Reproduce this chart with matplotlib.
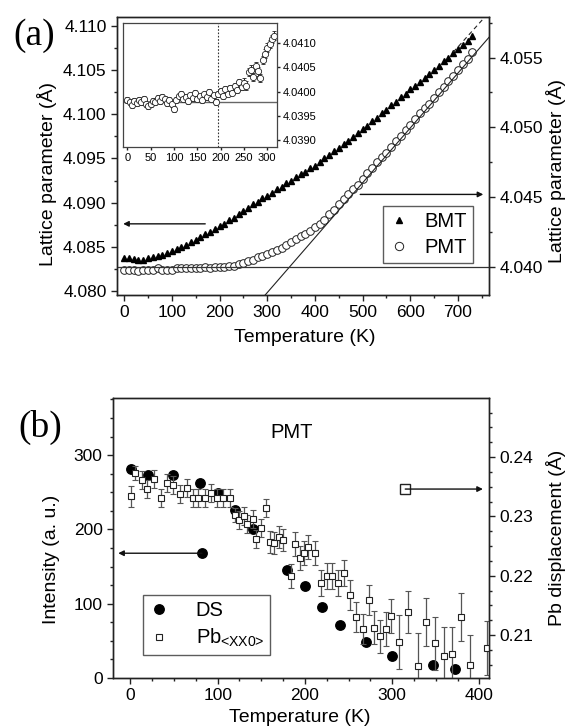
import numpy as np
import matplotlib
matplotlib.use("Agg")
import matplotlib.pyplot as plt
from matplotlib.ticker import MultipleLocator, FormatStrFormatter
from matplotlib.lines import Line2D

plt.rcParams['font.family'] = ['Liberation Sans', 'DejaVu Sans']
plt.rcParams['mathtext.fontset'] = 'custom'
plt.rcParams['mathtext.rm'] = 'Liberation Sans'

# ---------------- panel (a): lattice parameters ----------------
T_a = np.arange(0, 740, 10)
bmt = [4.0837, 4.0837, 4.0836, 4.0835, 4.0835, 4.0837, 4.0838, 4.0840, 4.0841, 4.0843,
       4.0845, 4.0847, 4.0850, 4.0852, 4.0855, 4.0858, 4.0861, 4.0864, 4.0867, 4.0870,
       4.0873, 4.0876, 4.0880, 4.0883, 4.0887, 4.0890, 4.0894, 4.0898, 4.0901, 4.0905,
       4.0908, 4.0911, 4.0915, 4.0918, 4.0922, 4.0925, 4.0929, 4.0932, 4.0935, 4.0939,
       4.0942, 4.0946, 4.0950, 4.0954, 4.0958, 4.0962, 4.0966, 4.0970, 4.0974, 4.0979,
       4.0983, 4.0987, 4.0992, 4.0996, 4.1001, 4.1005, 4.1010, 4.1014, 4.1019, 4.1023,
       4.1028, 4.1032, 4.1037, 4.1041, 4.1046, 4.1050, 4.1055, 4.1060, 4.1064, 4.1069,
       4.1074, 4.1078, 4.1083, 4.1088]
pmt = [4.0398, 4.0398, 4.0398, 4.0397, 4.0398, 4.0398, 4.0398, 4.0399, 4.0398, 4.0398,
       4.0398, 4.0399, 4.0399, 4.0399, 4.0399, 4.0399, 4.0399, 4.0400, 4.0399, 4.0400,
       4.0400, 4.0400, 4.0401, 4.0401, 4.0402, 4.0403, 4.0404, 4.0405, 4.0407, 4.0408,
       4.0409, 4.0411, 4.0412, 4.0414, 4.0416, 4.0418, 4.0420, 4.0422, 4.0424, 4.0426,
       4.0429, 4.0431, 4.0434, 4.0438, 4.0441, 4.0445, 4.0449, 4.0452, 4.0456, 4.0459,
       4.0463, 4.0467, 4.0471, 4.0475, 4.0479, 4.0482, 4.0486, 4.0490, 4.0494, 4.0498,
       4.0502, 4.0506, 4.0510, 4.0514, 4.0517, 4.0521, 4.0525, 4.0529, 4.0533, 4.0537,
       4.0541, 4.0545, 4.0549, 4.0554]

# linear guides: intercept, slope, T range
pmt_fit = (4.02638, 3.93e-5, 290, 765)
bmt_fit = (4.06562, 6.0e-5, 690, 758)
pmt_ref = 4.040

# inset: PMT at low T
T_in = np.arange(0, 320, 5)
pmt_in = [4.03982, 4.03978, 4.03972, 4.03980, 4.03976, 4.03983, 4.03979, 4.03985,
          4.03974, 4.03970, 4.03975, 4.03981, 4.03978, 4.03986, 4.03980, 4.03988,
          4.03984, 4.03976, 4.03983, 4.03975, 4.03965, 4.03982, 4.03990, 4.03995,
          4.03984, 4.03988, 4.03980, 4.03992, 4.03986, 4.03998, 4.03985, 4.03990,
          4.03982, 4.03994, 4.03988, 4.04000, 4.03985, 4.03992, 4.03978, 4.03995,
          4.04002, 4.03990, 4.04005, 4.03996, 4.04008, 4.03998, 4.04012, 4.04004,
          4.04020, 4.04010, 4.04018, 4.04012, 4.04040, 4.04045, 4.04030, 4.04052,
          4.04042, 4.04028, 4.04065, 4.04078, 4.04090, 4.04098, 4.04108, 4.04115]
pmt_in_err = np.where(T_in < 250, 0.00006, 0.00009)
inset_ref = 4.03979
inset_tc = 195

arrow_a_left = ((170, 4.0876), (-2, 4.0876))
arrow_a_right = ((495, 4.0452), (753, 4.0452))

# ---------------- panel (b): PMT diffuse scattering ----------------
T_ds = [1, 20, 49, 80, 100, 120, 140, 180, 200, 220, 240, 270, 300, 347, 372]
ds = [281, 273, 273, 262, 249, 226, 200, 145, 124, 96, 71, 48, 30, 17, 12]

T_pb = [1, 5, 13, 19, 27, 35, 42, 49, 57, 65, 72, 78, 85, 92, 99, 106, 114, 120, 124,
        130, 134, 141, 144, 150, 155, 160, 165, 170, 175, 184, 189, 194, 199, 204, 211,
        218, 225, 231, 238, 245, 252, 259, 266, 273, 279, 286, 293, 299, 308, 318, 330,
        339, 349, 359, 369, 379, 389, 409]
pb = [0.2334, 0.2373, 0.2361, 0.2346, 0.2363, 0.2331, 0.2356, 0.2353, 0.2338, 0.2348,
      0.2331, 0.2331, 0.2331, 0.2339, 0.2331, 0.2331, 0.2331, 0.2302, 0.2294, 0.2301,
      0.2287, 0.2295, 0.2262, 0.2280, 0.2314, 0.2257, 0.2255, 0.2265, 0.2260, 0.2199,
      0.2253, 0.2230, 0.2238, 0.2248, 0.2238, 0.2188, 0.2199, 0.2199, 0.2188, 0.2204,
      0.2167, 0.2130, 0.2110, 0.2159, 0.2112, 0.2098, 0.2110, 0.2132, 0.2088, 0.2139,
      0.2048, 0.2122, 0.2086, 0.2064, 0.2068, 0.2130, 0.2050, 0.2078]
pb_err = [0.0018, 0.0012, 0.0015, 0.0015, 0.0015, 0.0015, 0.0015, 0.0015, 0.0015, 0.0015,
          0.0015, 0.0015, 0.0015, 0.0015, 0.0015, 0.0015, 0.0015, 0.0012, 0.0015, 0.0015,
          0.0015, 0.0015, 0.0015, 0.0015, 0.0015, 0.0018, 0.0018, 0.0018, 0.0018, 0.0020,
          0.0020, 0.0020, 0.0020, 0.0020, 0.0020, 0.0022, 0.0022, 0.0022, 0.0022, 0.0022,
          0.0025, 0.0025, 0.0025, 0.0025, 0.0028, 0.0028, 0.0028, 0.0028, 0.0045, 0.0035,
          0.0055, 0.0040, 0.0045, 0.0050, 0.0045, 0.0040, 0.0050, 0.0045]

arrow_b_left = ((82, 168), (-14, 168))
arrow_b_right = ((315, 0.2346), (404, 0.2346))

# ---------------- figure ----------------
W, H = 566.0, 728.0
fig = plt.figure(figsize=(W / 100, H / 100), dpi=100)

def box(x0, y0, x1, y1):
    return [x0 / W, 1 - y1 / H, (x1 - x0) / W, (y1 - y0) / H]

def style(ax, size=12.5, major=4, minor=2.5):
    for s in ax.spines.values():
        s.set_linewidth(1.0)
        s.set_color('#222222')
    ax.tick_params(which='both', direction='out', width=1.0, colors='#222222',
                   labelsize=size, labelcolor='black', top=False)
    ax.tick_params(which='major', length=major)
    ax.tick_params(which='minor', length=minor)

ax_a = fig.add_axes(box(117, 17, 489, 295))
ax_a2 = ax_a.twinx()
ax_in = fig.add_axes(box(123, 23, 277, 147))
ax_b = fig.add_axes(box(113, 398, 489, 678))
ax_b2 = ax_b.twinx()

# panel (a)
ax_a.plot(T_a, bmt, ls='none', marker='^', ms=4.5, color='black', label='BMT')
ax_a2.plot(T_a, pmt, ls='none', marker='o', ms=5.5, mfc='white', mec='#222222',
           mew=0.7, label='PMT')
tt = np.linspace(pmt_fit[2], pmt_fit[3], 2)
ax_a2.plot(tt, pmt_fit[0] + pmt_fit[1] * tt, color='#222222', lw=0.8)
tt = np.linspace(bmt_fit[2], bmt_fit[3], 2)
ax_a.plot(tt, bmt_fit[0] + bmt_fit[1] * tt, color='#222222', lw=0.8, ls=(0, (4, 3)))
ax_a2.axhline(pmt_ref, color='#333333', lw=0.9)

ax_a.set_xlim(-15, 765)
ax_a.set_ylim(4.07955, 4.1110)
ax_a2.set_ylim(4.038, 4.0579)
ax_a.xaxis.set_major_locator(MultipleLocator(100))
ax_a.xaxis.set_minor_locator(MultipleLocator(50))
ax_a.yaxis.set_major_locator(MultipleLocator(0.005))
ax_a.yaxis.set_minor_locator(MultipleLocator(0.0025))
ax_a.yaxis.set_major_formatter(FormatStrFormatter('%.3f'))
ax_a2.yaxis.set_major_locator(MultipleLocator(0.005))
ax_a2.yaxis.set_minor_locator(MultipleLocator(0.0025))
ax_a2.yaxis.set_major_formatter(FormatStrFormatter('%.3f'))
style(ax_a)
style(ax_a2)
ax_a.tick_params(which='both', right=False)

for (x0, y0), (x1, y1), ax in [(arrow_a_left[0], arrow_a_left[1], ax_a),
                               (arrow_a_right[0], arrow_a_right[1], ax_a2)]:
    ax.annotate('', xy=(x1, y1), xytext=(x0, y0),
                arrowprops=dict(arrowstyle='-|>', color='#111111', lw=1.0,
                                mutation_scale=8, shrinkA=0, shrinkB=0))

h1, = ax_a.plot([], [], ls='none', marker='^', ms=5, color='black')
h2, = ax_a2.plot([], [], ls='none', marker='o', ms=6, mfc='white', mec='#222222', mew=0.7)
leg = ax_a2.legend([h1, h2], ['BMT', 'PMT'], loc='center', bbox_to_anchor=(0.836, 0.218),
                   fontsize=14.5, frameon=True, fancybox=False, handlelength=1.0,
                   handletextpad=0.8, labelspacing=0.35, borderpad=0.3)
leg.get_frame().set_edgecolor('#333333')
leg.get_frame().set_linewidth(1.0)

# inset
ax_in.set_zorder(5)
ax_in.errorbar(T_in, pmt_in, yerr=pmt_in_err, ls='none', marker='o', ms=4.5,
               mfc='white', mec='#222222', mew=0.6, ecolor='#222222', elinewidth=0.7,
               capsize=1.5, capthick=0.7)
ax_in.axhline(inset_ref, color='#666666', lw=1.0)
ax_in.axvline(inset_tc, color='#333333', lw=0.8, ls=(0, (1.5, 1.5)))
ax_in.set_xlim(-9, 321)
ax_in.set_ylim(4.03886, 4.04141)
ax_in.xaxis.set_major_locator(MultipleLocator(50))
ax_in.yaxis.set_major_locator(MultipleLocator(0.0005))
ax_in.yaxis.set_major_formatter(FormatStrFormatter('%.4f'))
ax_in.yaxis.tick_right()
style(ax_in, size=8, major=2.5)
ax_in.tick_params(axis='x', pad=2)
ax_in.tick_params(axis='y', pad=1.5)
for s in ax_in.spines.values():
    s.set_color('#444444')
    s.set_linewidth(0.9)

# panel (b)
ax_b.plot(T_ds, ds, ls='none', marker='o', ms=6.8, color='black')
ax_b2.errorbar(T_pb, pb, yerr=pb_err, ls='none', marker='s', ms=4.3, mfc='white',
               mec='#222222', mew=0.8, ecolor='#555555', elinewidth=0.9,
               capsize=2.5, capthick=0.9)
ax_b.set_xlim(-20, 411)
ax_b.set_ylim(0, 377)
ax_b2.set_ylim(0.20275, 0.24995)
ax_b.xaxis.set_major_locator(MultipleLocator(100))
ax_b.xaxis.set_minor_locator(MultipleLocator(25))
ax_b.yaxis.set_major_locator(MultipleLocator(100))
ax_b.yaxis.set_minor_locator(MultipleLocator(25))
ax_b2.yaxis.set_major_locator(MultipleLocator(0.01))
ax_b2.yaxis.set_minor_locator(MultipleLocator(0.0025))
ax_b2.yaxis.set_major_formatter(FormatStrFormatter('%.2f'))
style(ax_b)
style(ax_b2)
ax_b.tick_params(which='both', right=False)

(x0, y0), (x1, y1) = arrow_b_left
ax_b.annotate('', xy=(x1, y1), xytext=(x0, y0),
              arrowprops=dict(arrowstyle='-|>', color='#111111', lw=1.0,
                              mutation_scale=8, shrinkA=0, shrinkB=0))
ax_b.plot([x0], [y0], marker='o', ms=6.8, color='black')
(x0, y0), (x1, y1) = arrow_b_right
ax_b2.annotate('', xy=(x1, y1), xytext=(x0, y0),
               arrowprops=dict(arrowstyle='-|>', color='#111111', lw=1.0,
                               mutation_scale=8, shrinkA=0, shrinkB=0))
ax_b2.plot([x0], [y0], marker='s', ms=6.5, mfc='white', mec='#222222', mew=1.0)

g1 = Line2D([], [], ls='none', marker='o', ms=6.8, color='black')
g2 = Line2D([], [], ls='none', marker='s', ms=4.3, mfc='white', mec='#222222', mew=0.8)
leg_b = ax_b2.legend([g1, g2], ['DS', r'Pb$_{\text{<XX0>}}$'], loc='center',
                     bbox_to_anchor=(0.249, 0.189), fontsize=14.5, frameon=True,
                     fancybox=False, handlelength=1.0, handletextpad=1.3,
                     labelspacing=0.35, borderpad=0.3)
leg_b.get_frame().set_edgecolor('#333333')
leg_b.get_frame().set_linewidth(1.0)

# text
def px(x, y):
    return x / W, 1 - y / H

fig.text(*px(13, 45), '(a)', family='Liberation Serif', fontsize=27, va='baseline')
fig.text(*px(18, 437), '(b)', family='Liberation Serif', fontsize=27, va='baseline')
fig.text(*px(47, 174), 'Lattice parameter (Å)', rotation=90, fontsize=14, ha='center', va='center')
fig.text(*px(556, 171), 'Lattice parameter (Å)', rotation=90, fontsize=14, ha='center', va='center')
fig.text(*px(305, 337), 'Temperature (K)', fontsize=14, ha='center', va='center')
fig.text(*px(52, 559), 'Intensity (a. u.)', rotation=90, fontsize=14, ha='center', va='center')
fig.text(*px(556, 538), 'Pb displacement (Å)', rotation=90, fontsize=14, ha='center', va='center')
fig.text(*px(300, 717), 'Temperature (K)', fontsize=14, ha='center', va='center')
fig.text(*px(292, 433), 'PMT', fontsize=14.5, ha='center', va='center')

fig.savefig('out.png', dpi=100)
